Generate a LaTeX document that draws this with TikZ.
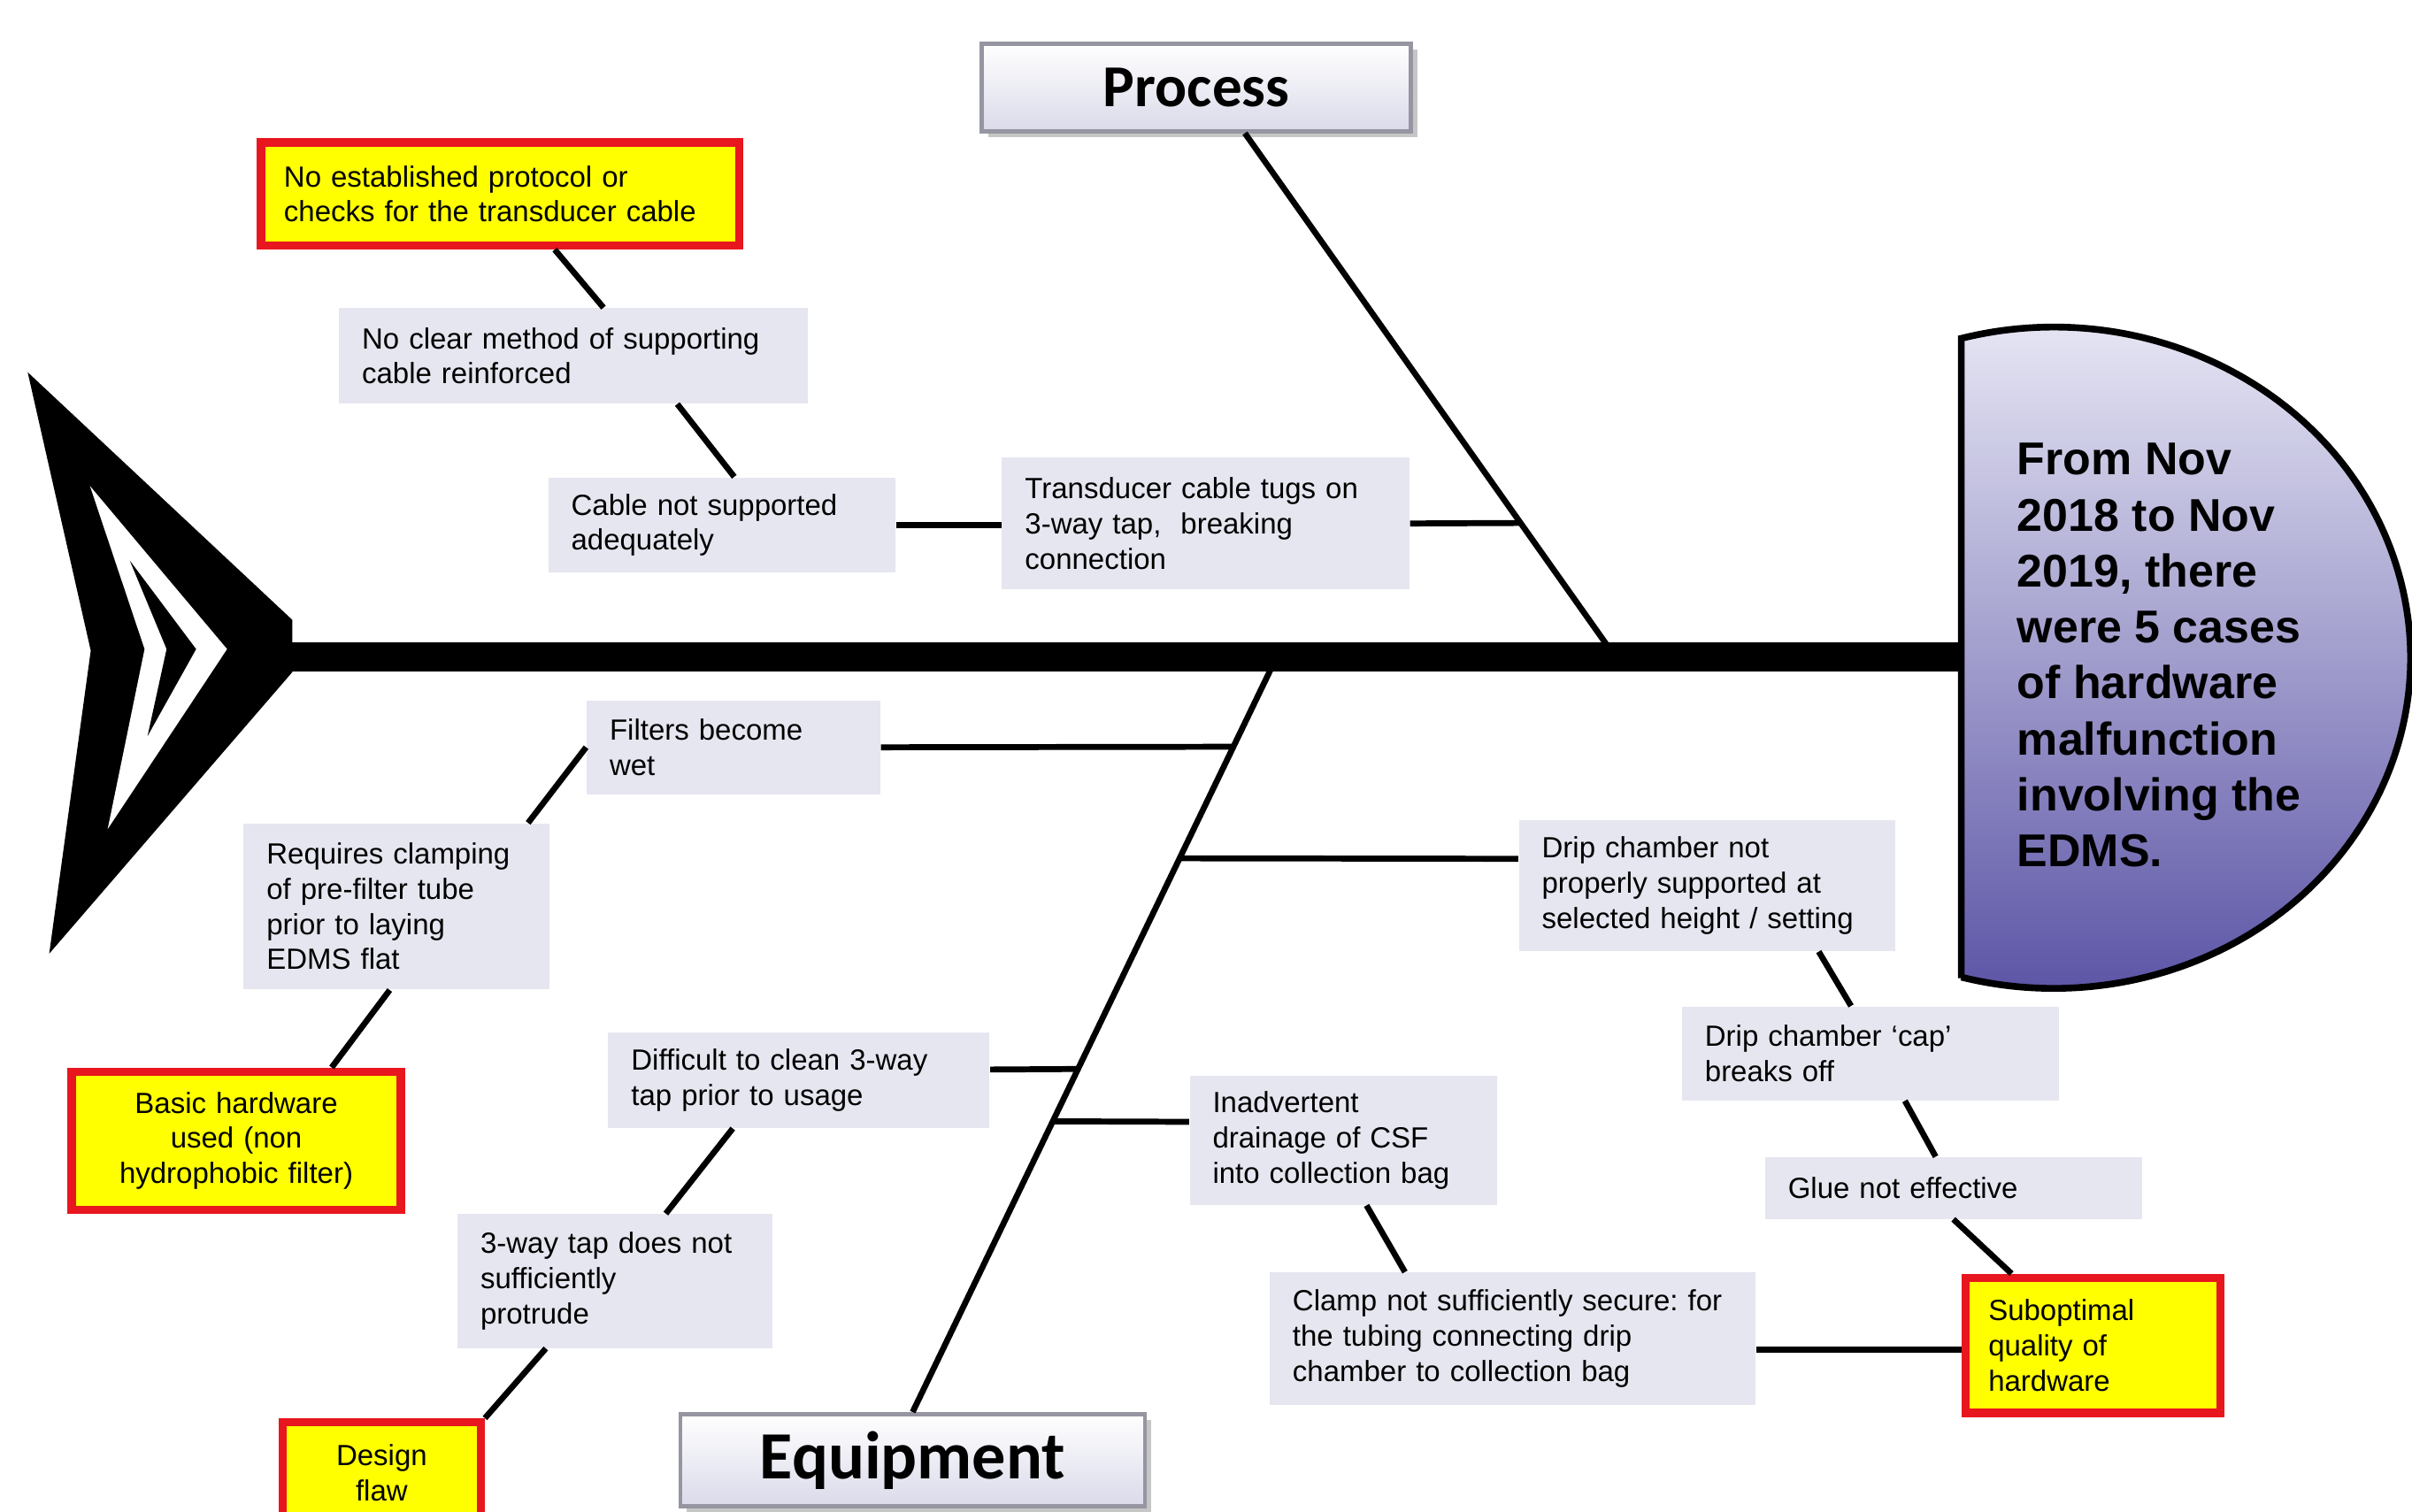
\documentclass[tikz,border=0pt]{standalone}
\usepackage{fontspec}
\setmainfont{Liberation Sans}
\newfontfamily\calibri{Carlito}
\usetikzlibrary{calc, shadows}
\frenchspacing

\definecolor{causegray}{RGB}{230,230,240}
\definecolor{rootred}{RGB}{232,22,30}
\definecolor{rootyellow}{RGB}{255,255,0}
\definecolor{catlav}{RGB}{218,218,234}
\definecolor{catedge}{RGB}{150,150,162}
\definecolor{effectlight}{RGB}{236,236,247}
\definecolor{effectmid}{RGB}{205,203,232}
\definecolor{effectdark}{RGB}{92,85,166}
\newcommand\causefont{\fontsize{10.8}{13}\selectfont}

\begin{document}
\begin{tikzpicture}[x=0.02cm, y=-0.02cm,
    cause/.style={fill=causegray, anchor=north west, inner xsep=0.3cm, inner ysep=0pt, align=left, font=\causefont},
    rootcause/.style={cause, fill=rootyellow, draw=rootred, line width=3pt},
    category/.style={anchor=north west, top color=white, bottom color=catlav, draw=catedge, line width=1.5pt,
      drop shadow={shadow xshift=0.08cm, shadow yshift=-0.08cm, opacity=0.45}, inner sep=0pt},
    effectshape/.style={draw=black, line width=2.5pt, top color=effectlight, middle color=effectmid, bottom color=effectdark},
    bone/.style={line width=2.2pt},
    spine/.style={line width=11pt}]
  \useasboundingbox (0,0) rectangle (1568,983);

  % Fish tail
  \fill (18,242) -- (190,403) -- (190,437) -- (32,620) -- (59,423) -- cycle;
  \fill [white] (58.5,316) -- (147.6,422) -- (70,539) -- (94,422) -- cycle;
  \fill (84.4,364.5) -- (127.5,422) -- (95.9,478.6) -- (108.3,422) -- cycle;

  % Spine and effect
  \coordinate (tail) at (186,427);
  \coordinate (headleft) at (1275,427);
  \coordinate (pjoin) at (1050,427);
  \coordinate (ejoin) at (830,427);
  \draw [spine] (tail) -- (headleft);
  \draw [effectshape] (1275,636) -- (1275,220) arc[start angle=105, end angle=-105, x radius=4.64cm, y radius=4.3cm] -- cycle;
  \node (effect) [anchor=west, align=left, inner sep=0pt, font=\fontsize{17}{20.7}\selectfont\bfseries] at (1311,426)
    {From Nov\\2018 to Nov\\2019, there\\were 5 cases\\of hardware\\malfunction\\involving the\\EDMS.};

  % Categories
  \node (process) [category, minimum width=5.58cm, minimum height=1.14cm, font=\calibri\bfseries\fontsize{22}{26}\selectfont] at (637,27) {Process};
  \node (equipment) [category, minimum width=6.04cm, minimum height=1.2cm, font=\calibri\bfseries\fontsize{25}{30}\selectfont] at (441,918) {Equipment};

  % Process causes
  \node (proto) [rootcause, text width=5.62cm, minimum height=1.34cm] at (167,90) {No established protocol or\\checks for the transducer cable};
  \node (method) [cause, text width=5.5cm, minimum height=1.24cm] at (220,200) {No clear method of supporting\\cable reinforced};
  \node (support) [cause, text width=3.92cm, minimum height=1.24cm] at (356,310) {Cable not supported\\adequately};
  \node (tugs) [cause, text width=4.7cm, minimum height=1.72cm] at (651,297) {Transducer cable tugs on\\3-way tap,~ breaking\\connection};

  % Equipment causes
  \node (filters) [cause, text width=3.22cm, minimum height=1.22cm] at (381,455) {Filters become\\wet};
  \node (clamping) [cause, text width=3.38cm, minimum height=2.16cm] at (158,535) {Requires clamping\\of pre-filter tube\\prior to laying\\EDMS flat};
  \node (basic) [rootcause, align=center, text width=3.68cm, minimum height=1.8cm] at (44,694) {Basic hardware\\used (non\\hydrophobic filter)};
  \node (clean) [cause, text width=4.36cm, minimum height=1.24cm] at (395,671) {Difficult to clean 3-way\\tap prior to usage};
  \node (protrude) [cause, text width=3.5cm, minimum height=1.74cm] at (297,789) {3-way tap does not\\sufficiently\\protrude};
  \node (design) [rootcause, align=center, text width=1.98cm, minimum height=1.32cm] at (181,922) {Design\\flaw};
  \node (drip) [cause, text width=4.3cm, minimum height=1.7cm] at (987,533) {Drip chamber not\\properly supported at\\selected height / setting};
  \node (cap) [cause, text width=4.3cm, minimum height=1.22cm] at (1093,654) {Drip chamber ‘cap’\\breaks off};
  \node (glue) [cause, text width=4.3cm, minimum height=0.8cm] at (1147,752) {Glue not effective};
  \node (subopt) [rootcause, text width=2.72cm, minimum height=1.76cm] at (1275,828) {Suboptimal\\quality of\\hardware};
  \node (inadv) [cause, text width=3.4cm, minimum height=1.68cm] at (773,699) {Inadvertent\\drainage of CSF\\into collection bag};
  \node (clampsec) [cause, text width=5.72cm, minimum height=1.72cm] at (825,827) {Clamp not sufficiently secure: for\\the tubing connecting drip\\chamber to collection bag};

  % Join points on the bones
  \coordinate (tugsjoin) at (989,340);
  \coordinate (filtersjoin) at (802,485.5);
  \coordinate (dripjoin) at (766.5,558);
  \coordinate (cleanjoin) at (700,695);
  \coordinate (inadvjoin) at (683.5,729);

  % Bones
  \draw [bone] ([xshift=0.63cm]process.south) -- (pjoin);
  \draw [bone] (ejoin) -- (equipment.north);

  % Connect the causes
  \draw [bone] ([xshift=0.71cm]proto.south) -- ([xshift=0.39cm]method.north);
  \draw [bone] ([xshift=1.35cm]method.south) -- ([xshift=0.16cm]support.north);
  \draw [bone] (support.east) -- (support.east -| tugs.west);
  \draw [bone] (tugs.east) -- (tugsjoin);
  \draw [bone] (filters.east) -- (filtersjoin);
  \draw [bone] ([yshift=0.35cm]drip.west) -- (dripjoin);
  \draw [bone] ([yshift=0.14cm]clean.east) -- (cleanjoin);
  \draw [bone] ([yshift=0.24cm]inadv.west) -- (inadvjoin);
  \draw [bone] ([xshift=1.71cm]clamping.north) -- (filters.west);
  \draw [bone] ([xshift=-0.09cm]clamping.south) -- ([xshift=1.24cm]basic.north);
  \draw [bone] ([xshift=-0.86cm]clean.south) -- ([xshift=0.66cm]protrude.north);
  \draw [bone] ([xshift=-0.9cm]protrude.south) -- (design.north east);
  \draw [bone] ([xshift=1.45cm]drip.south) -- ([xshift=-0.25cm]cap.north);
  \draw [bone] ([xshift=0.45cm]cap.south) -- ([xshift=-0.23cm]glue.north);
  \draw [bone] (glue.south) -- ([xshift=-1.06cm]subopt.north);
  \draw [bone] ([xshift=0.3cm]inadv.south) -- ([xshift=-1.4cm]clampsec.north);
  \draw [bone] ([yshift=-0.14cm]clampsec.east) -- ([yshift=-0.14cm]clampsec.east -| subopt.west);
\end{tikzpicture}
\end{document}
